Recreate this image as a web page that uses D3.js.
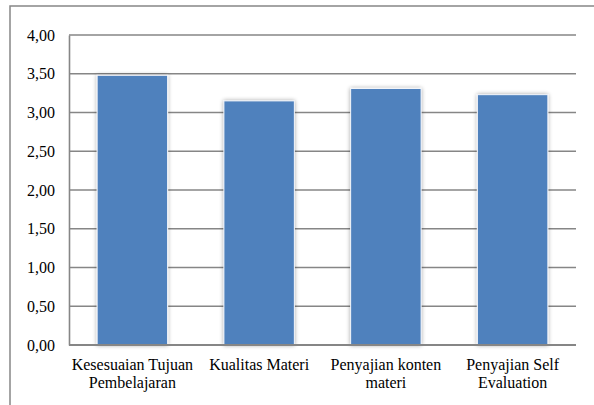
<!DOCTYPE html>
<html>
<head>
<meta charset="utf-8">
<script src="https://cdn.jsdelivr.net/npm/d3@7"></script>
<style>
  html, body { margin: 0; padding: 0; background: #fff; }
  svg { display: block; }
  svg text { font-family: "Liberation Serif", "Times New Roman", Tinos, Times, serif; }
</style>
</head>
<body>
<svg id="chart" width="594" height="405" font-family="Liberation Serif, Times New Roman, serif"></svg>
<script>
// Average score per assessment aspect
const categories = [
  ["Kesesuaian Tujuan", "Pembelajaran"],
  ["Kualitas Materi"],
  ["Penyajian konten", "materi"],
  ["Penyajian Self", "Evaluation"]
];
const values = [3.48, 3.15, 3.31, 3.23];
const yTicks = [0, 0.5, 1, 1.5, 2, 2.5, 3, 3.5, 4];

const FONT = '"Liberation Serif", "Times New Roman", Tinos, Times, serif';
const svg = d3.select("#chart");
const W = 594, H = 405;
const plot = { left: 69, top: 35, right: 576, bottom: 345 };

// Outer frame
svg.append("rect")
  .attr("x", 10).attr("y", 6)
  .attr("width", W + 20).attr("height", H + 20)
  .attr("fill", "#fff")
  .attr("stroke", "#878787")
  .attr("stroke-width", 1.5);

const x = d3.scaleBand()
  .domain(d3.range(categories.length))
  .range([plot.left, plot.right])
  .paddingInner(0.444)
  .paddingOuter(0.222);

const y = d3.scaleLinear()
  .domain([0, 4])
  .range([plot.bottom, plot.top]);

const fmt = v => d3.format(".2f")(v).replace(".", ",");

// Gridlines
svg.append("g")
  .selectAll("line")
  .data(yTicks.filter(t => t > 0))
  .join("line")
  .attr("x1", plot.left).attr("x2", plot.right)
  .attr("y1", d => y(d)).attr("y2", d => y(d))
  .attr("stroke", "#868686")
  .attr("stroke-width", 1.6);

// Y axis
const yAxis = svg.append("g")
  .attr("transform", `translate(${plot.left},0)`)
  .call(d3.axisLeft(y).tickValues(yTicks).tickFormat(fmt).tickSize(0).tickPadding(14))
  .attr("font-family", FONT)
  .attr("font-size", 16);
yAxis.select(".domain").attr("stroke", "#868686").attr("stroke-width", 1.6);
yAxis.selectAll("text")
  .attr("font-family", FONT)
  .style("font-family", FONT)
  .style("font-size", "16px")
  .style("fill", "#000");

// Soft shadow around the bars
const defs = svg.append("defs");
const f = defs.append("filter").attr("id", "glow")
  .attr("x", "-20%").attr("y", "-10%").attr("width", "140%").attr("height", "120%");
f.append("feGaussianBlur").attr("in", "SourceAlpha").attr("stdDeviation", 2.2).attr("result", "b");
f.append("feComponentTransfer").attr("in", "b").attr("result", "s")
  .append("feFuncA").attr("type", "linear").attr("slope", 0.35);
const m = f.append("feMerge");
m.append("feMergeNode").attr("in", "s");
m.append("feMergeNode").attr("in", "SourceGraphic");

svg.append("g")
  .selectAll("rect")
  .data(values)
  .join("rect")
  .attr("x", (d, i) => x(i))
  .attr("y", d => y(d))
  .attr("width", x.bandwidth())
  .attr("height", d => y(0) - y(d))
  .attr("fill", "#4F81BD")
  .attr("stroke", "#f4f6fa")
  .attr("stroke-width", 1)
  .attr("filter", "url(#glow)");

// X axis baseline
svg.append("line")
  .attr("x1", plot.left).attr("x2", plot.right)
  .attr("y1", y(0)).attr("y2", y(0))
  .attr("stroke", "#868686")
  .attr("stroke-width", 1.8);

// Category labels
const lab = svg.append("g")
  .attr("font-family", FONT)
  .selectAll("text")
  .data(categories)
  .join("text")
  .attr("text-anchor", "middle")
  .attr("font-family", FONT)
  .style("font-family", FONT)
  .style("font-size", "16px")
  .style("fill", "#000")
  .attr("x", (d, i) => x(i) + x.bandwidth() / 2)
  .attr("y", 370);
lab.selectAll("tspan")
  .data(d => d)
  .join("tspan")
  .attr("x", function () { return d3.select(this.parentNode).attr("x"); })
  .attr("dy", (d, i) => i === 0 ? 0 : 18)
  .text(d => d);
</script>
</body>
</html>
